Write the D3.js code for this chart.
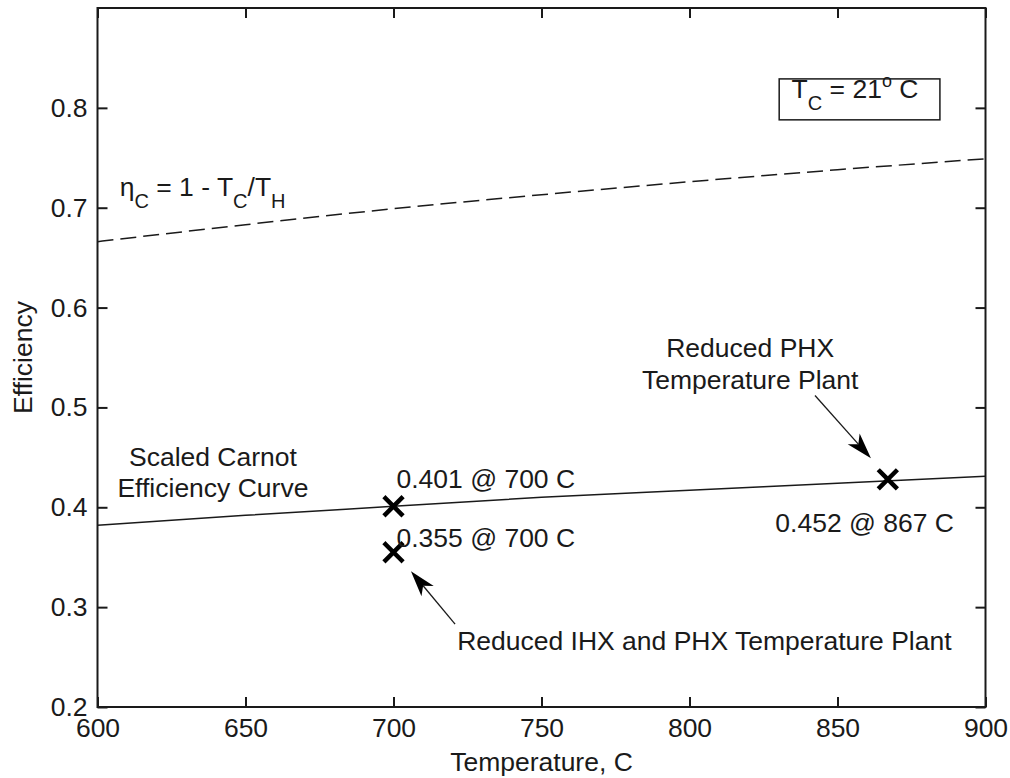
<!DOCTYPE html>
<html>
<head>
<meta charset="utf-8">
<script src="https://cdn.jsdelivr.net/npm/d3@7"></script>
<style>
  body { margin: 0; background: #fff; }
  text { font-family: "Liberation Sans", Arial, sans-serif; fill: #1a1a1a; }
</style>
</head>
<body>
<div class="EffChart"></div>
<script>
// values
var temps = [600, 650, 700, 750, 800, 850, 900];
var carnotEff = [0.666, 0.683, 0.699, 0.713, 0.726, 0.738, 0.749];
var scaledEff = [0.382, 0.392, 0.401, 0.410, 0.417, 0.424, 0.431];
var plantT = [700, 700, 867];
var plantEff = [0.401, 0.355, 0.428];
var xTicks = [600, 650, 700, 750, 800, 850, 900];
var yTicks = [0.2, 0.3, 0.4, 0.5, 0.6, 0.7, 0.8];

var W = 1010, H = 778;
var margin = {top: 8, right: 24.5, bottom: 71, left: 97.5},
    width = W - margin.left - margin.right,
    height = H - margin.top - margin.bottom;

var svg = d3.select(".EffChart").append("svg")
    .attr("width", W)
    .attr("height", H);

var g = svg.append("g")
    .attr("transform", "translate(" + margin.left + "," + margin.top + ")");

var x = d3.scaleLinear().domain([600, 900]).range([0, width]);
var y = d3.scaleLinear().domain([0.2, 0.9]).range([height, 0]);

var fs = 26.5;

// axes (ticks inward, box on)
var xAxis = d3.axisBottom(x).tickValues(xTicks).tickSize(-10).tickPadding(11).tickFormat(d3.format("d"));
var yAxis = d3.axisLeft(y).tickValues(yTicks).tickSize(-10).tickPadding(10).tickFormat(d3.format(".1f"));
var xTop = d3.axisTop(x).tickValues(xTicks).tickSize(-10).tickFormat("");
var yRight = d3.axisRight(y).tickValues(yTicks).tickSize(-10).tickFormat("");

function styleAxis(sel) {
  sel.select(".domain").remove();
  sel.selectAll(".tick line").attr("stroke", "#1a1a1a").attr("stroke-width", 2);
  sel.selectAll(".tick text").style("font-size", fs + "px").attr("fill", "#1a1a1a");
}

g.append("g").attr("transform", "translate(0," + height + ")").call(xAxis).call(styleAxis);
g.append("g").call(yAxis).call(styleAxis);
g.append("g").call(xTop).call(styleAxis);
g.append("g").attr("transform", "translate(" + width + ",0)").call(yRight).call(styleAxis);

g.selectAll(".tick text").attr("font-family", null);

g.append("rect")
    .attr("x", 0).attr("y", 0)
    .attr("width", width).attr("height", height)
    .attr("fill", "none")
    .attr("stroke", "#1a1a1a")
    .attr("stroke-width", 2);

// curves
var line = d3.line()
    .x(function(d){ return x(d[0]); })
    .y(function(d){ return y(d[1]); })
    .curve(d3.curveMonotoneX);

g.append("path")
    .datum(temps.map(function(t, i){ return [t, carnotEff[i]]; }))
    .attr("d", line)
    .attr("fill", "none")
    .attr("stroke", "#1a1a1a")
    .attr("stroke-width", 1.5)
    .attr("stroke-dasharray", "16,7");

g.append("path")
    .datum(temps.map(function(t, i){ return [t, scaledEff[i]]; }))
    .attr("d", line)
    .attr("fill", "none")
    .attr("stroke", "#1a1a1a")
    .attr("stroke-width", 1.5);

// plant points as bold x markers
var m = 8;
g.selectAll(".pt")
    .data(plantT.map(function(t, i){ return {t: t, e: plantEff[i]}; }))
  .enter().append("path")
    .attr("class", "pt")
    .attr("d", function(d){
      var cx = x(d.t), cy = y(d.e);
      return "M" + (cx - m) + "," + (cy - m) + "L" + (cx + m) + "," + (cy + m) +
             "M" + (cx - m) + "," + (cy + m) + "L" + (cx + m) + "," + (cy - m);
    })
    .attr("stroke", "#000")
    .attr("stroke-width", 4.5)
    .attr("stroke-linecap", "square");

// text annotations, placed in data units
function label(t, v, str, anchor) {
  return g.append("text")
      .attr("x", x(t)).attr("y", y(v))
      .attr("text-anchor", anchor || "start")
      .style("font-size", fs + "px")
      .text(str);
}

label(639, 0.441, "Scaled Carnot", "middle");
label(639, 0.410, "Efficiency Curve", "middle");
label(701, 0.419, "0.401 @ 700 C");
label(701, 0.360, "0.355 @ 700 C");
label(829, 0.375, "0.452 @ 867 C");
label(820.5, 0.551, "Reduced PHX", "middle");
label(820.5, 0.518, "Temperature Plant", "middle");
label(721.5, 0.257, "Reduced IHX and PHX Temperature Plant");

// eta label
var eta = g.append("text")
    .attr("x", x(607.5)).attr("y", y(0.712))
    .style("font-size", fs + "px");
eta.append("tspan").text("\u03b7");
eta.append("tspan").attr("dy", 12).style("font-size", "20px").text("C");
eta.append("tspan").attr("dy", -12).text(" = 1 - T");
eta.append("tspan").attr("dy", 12).style("font-size", "20px").text("C");
eta.append("tspan").attr("dy", -12).text("/T");
eta.append("tspan").attr("dy", 12).style("font-size", "20px").text("H");

// Tc box
g.append("rect")
    .attr("x", x(830.3)).attr("y", y(0.829))
    .attr("width", x(884.6) - x(830.3))
    .attr("height", y(0.788) - y(0.829))
    .attr("fill", "#fff")
    .attr("stroke", "#1a1a1a")
    .attr("stroke-width", 1.5);

var tc = g.append("text")
    .attr("x", x(834.5)).attr("y", y(0.810))
    .style("font-size", fs + "px");
tc.append("tspan").text("T");
tc.append("tspan").attr("dy", 12).style("font-size", "20px").text("C");
tc.append("tspan").attr("dy", -12).text(" = 21");
tc.append("tspan").attr("dy", -11).style("font-size", "18px").text("o");
tc.append("tspan").attr("dy", 11).text(" C");

// arrows
function arrow(t0, v0, t1, v1) {
  var x0 = x(t0), y0 = y(v0), x1 = x(t1), y1 = y(v1);
  var a = Math.atan2(y1 - y0, x1 - x0);
  var L = 26, Wd = 8, n = 19;
  var bx = x1 - L * Math.cos(a), by = y1 - L * Math.sin(a);
  var nx = x1 - n * Math.cos(a), ny = y1 - n * Math.sin(a);
  var px = -Math.sin(a) * Wd, py = Math.cos(a) * Wd;
  g.append("line")
      .attr("x1", x0).attr("y1", y0).attr("x2", nx).attr("y2", ny)
      .attr("stroke", "#1a1a1a").attr("stroke-width", 1.3);
  g.append("path")
      .attr("d", "M" + x1 + "," + y1 + "L" + (bx + px) + "," + (by + py) +
                 "L" + nx + "," + ny + "L" + (bx - px) + "," + (by - py) + "Z")
      .attr("fill", "#000");
}

arrow(842.4, 0.512, 861.3, 0.449);
arrow(720.8, 0.283, 705.9, 0.336);

// axis titles
svg.append("text")
    .attr("x", margin.left + width / 2)
    .attr("y", 771)
    .attr("text-anchor", "middle")
    .style("font-size", fs + "px")
    .text("Temperature, C");

svg.append("text")
    .attr("transform", "translate(32," + (margin.top + height / 2) + ") rotate(-90)")
    .attr("text-anchor", "middle")
    .style("font-size", fs + "px")
    .text("Efficiency");
</script>
</body>
</html>
